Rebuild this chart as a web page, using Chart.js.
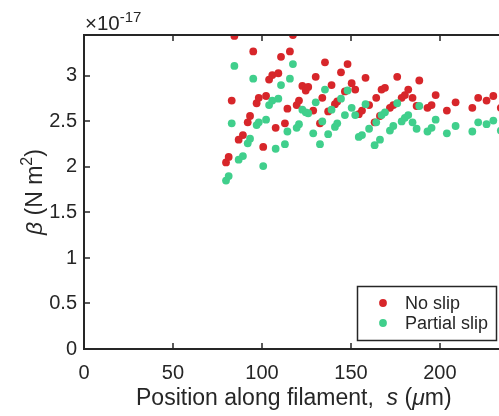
<!DOCTYPE html>
<html>
<head>
<meta charset="utf-8">
<script src="https://cdn.jsdelivr.net/npm/chart.js@4"></script>
<style>
  html, body { margin: 0; padding: 0; background: #fff; overflow: hidden; }
  #wrap { width: 499px; height: 416px; overflow: hidden; }
</style>
</head>
<body>
<div id="wrap"><canvas id="chart" width="520" height="416"></canvas></div>
<script>
// positions along the filament (um) and bending stiffness (x 1e-17 N m^2)
const positions = [
  79.8, 81.3, 83.0, 84.5, 86.9, 89.3, 92.0, 93.3, 95.1, 97.0,
  98.2, 100.7, 102.3, 104.0, 105.8, 107.7, 109.2, 110.7, 112.9, 114.3,
  115.7, 117.4, 119.5, 120.8, 122.7, 124.6, 126.0, 128.8, 130.2, 132.6,
  133.9, 135.4, 137.2, 139.1, 141.0, 142.3, 144.4, 146.6, 148.1, 150.4,
  152.4, 154.4, 156.2, 158.2, 160.2, 163.3, 164.2, 166.3, 167.2, 169.1,
  171.9, 173.8, 176.0, 178.5, 180.3, 182.2, 184.6, 186.9, 188.4, 193.0,
  195.3, 197.6, 203.9, 208.8, 218.2, 221.5, 226.2, 230.0, 234.2
];
const noSlip = [
  2.05, 2.11, 2.73, 3.44, 2.30, 2.35, 2.49, 2.56, 3.27, 2.70,
  2.76, 2.22, 2.78, 2.96, 3.01, 2.43, 3.03, 3.21, 2.48, 2.64,
  3.27, 3.45, 2.68, 2.73, 2.89, 2.84, 2.88, 2.62, 2.99, 2.48,
  2.76, 3.15, 2.61, 2.90, 2.69, 2.72, 3.04, 2.83, 3.13, 2.92,
  2.85, 2.58, 2.62, 2.98, 2.68, 2.49, 2.76, 2.56, 2.85, 2.87,
  2.65, 2.68, 2.99, 2.76, 2.79, 2.85, 2.76, 2.67, 2.95, 2.65,
  2.68, 2.79, 2.62, 2.71, 2.65, 2.76, 2.73, 2.78, 2.65
];
const partialSlip = [
  1.85, 1.90, 2.48, 3.11, 2.08, 2.12, 2.26, 2.31, 2.97, 2.46,
  2.49, 2.01, 2.52, 2.68, 2.73, 2.20, 2.75, 2.90, 2.25, 2.39,
  2.97, 3.13, 2.43, 2.47, 2.63, 2.60, 2.59, 2.37, 2.71, 2.25,
  2.50, 2.85, 2.36, 2.63, 2.44, 2.48, 2.75, 2.57, 2.84, 2.65,
  2.57, 2.33, 2.35, 2.69, 2.42, 2.24, 2.49, 2.30, 2.57, 2.60,
  2.40, 2.45, 2.70, 2.50, 2.54, 2.57, 2.49, 2.42, 2.67, 2.39,
  2.43, 2.52, 2.37, 2.45, 2.39, 2.49, 2.47, 2.51, 2.40
];
const xTicks = [0, 50, 100, 150, 200];
const yTicks = [0, 0.5, 1, 1.5, 2, 2.5, 3];

const RED = '#d7262a';
const GREEN = '#40cf8c';
const INK = '#262626';
const FONT = "'Liberation Sans', Arial, Helvetica, sans-serif";

function toPoints(ys) {
  return positions.map((x, i) => ({ x: x, y: ys[i] }));
}

// draws a run of text pieces one after another (italic, superscript ...)
function drawPieces(ctx, x, y, pieces) {
  let cx = x;
  pieces.forEach(p => {
    ctx.font = (p.italic ? 'italic ' : '') + p.size + 'px ' + FONT;
    ctx.fillText(p.text, cx, y - (p.raise || 0));
    cx += ctx.measureText(p.text).width;
  });
}

const frame = {
  id: 'frame',
  afterDraw(chart) {
    const ctx = chart.ctx;
    const a = chart.chartArea;
    const xs = chart.scales.x, ys = chart.scales.y;
    ctx.save();
    ctx.strokeStyle = INK;
    ctx.lineWidth = 2;
    ctx.strokeRect(a.left, a.top, a.right - a.left, a.bottom - a.top);

    // inward ticks
    ctx.lineWidth = 1.5;
    ctx.beginPath();
    xTicks.forEach(v => {
      if (v === 0) return;
      const px = Math.round(xs.getPixelForValue(v));
      ctx.moveTo(px, a.bottom); ctx.lineTo(px, a.bottom - 6);
      ctx.moveTo(px, a.top); ctx.lineTo(px, a.top + 6);
    });
    yTicks.forEach(v => {
      if (v === 0) return;
      const py = Math.round(ys.getPixelForValue(v));
      ctx.moveTo(a.left, py); ctx.lineTo(a.left + 6, py);
    });
    ctx.stroke();

    ctx.fillStyle = INK;
    ctx.textBaseline = 'alphabetic';
    ctx.textAlign = 'left';

    // exponent
    drawPieces(ctx, 85, 30, [
      { text: '\u00d7', size: 20.5 },
      { text: '10', size: 20.5 },
      { text: '-17', size: 15, raise: 8 }
    ]);

    // x title
    drawPieces(ctx, 136, 405, [
      { text: 'Position along filament,  ', size: 23 },
      { text: 's', size: 23, italic: true },
      { text: ' (', size: 23 },
      { text: '\u03bc', size: 23, italic: true },
      { text: 'm)', size: 23 }
    ]);

    // y title
    ctx.save();
    ctx.translate(42, 235);
    ctx.rotate(-Math.PI / 2);
    drawPieces(ctx, 0, 0, [
      { text: '\u03b2', size: 23, italic: true },
      { text: ' (N m', size: 23 },
      { text: '2', size: 16, raise: 10 },
      { text: ')', size: 23 }
    ]);
    ctx.restore();

    // legend
    ctx.fillStyle = '#fff';
    ctx.fillRect(357.5, 286.5, 139, 54);
    ctx.lineWidth = 1.5;
    ctx.strokeRect(357.5, 286.5, 139, 54);
    ctx.textBaseline = 'middle';
    ctx.font = '18px ' + FONT;
    const items = [chart.data.datasets[1], chart.data.datasets[0]];
    items.forEach((ds, i) => {
      const y = 303 + i * 20;
      ctx.fillStyle = ds.backgroundColor;
      ctx.beginPath();
      ctx.arc(383, y, 3.9, 0, Math.PI * 2);
      ctx.fill();
      ctx.fillStyle = INK;
      ctx.fillText(ds.label, 405, y + 1);
    });
    ctx.restore();
  }
};

new Chart(document.getElementById('chart'), {
  type: 'scatter',
  data: {
    datasets: [
      {
        label: 'Partial slip',
        data: toPoints(partialSlip),
        backgroundColor: GREEN,
        borderWidth: 0,
        pointRadius: 3.9,
        order: 0
      },
      {
        label: 'No slip',
        data: toPoints(noSlip),
        backgroundColor: RED,
        borderWidth: 0,
        pointRadius: 3.9,
        order: 1
      }
    ]
  },
  options: {
    responsive: false,
    animation: false,
    layout: { padding: { top: 35, right: 16, left: 0, bottom: 0 } },
    plugins: {
      legend: { display: false },
      tooltip: { enabled: false }
    },
    scales: {
      x: {
        type: 'linear',
        min: 0,
        max: 236,
        afterBuildTicks: s => { s.ticks = xTicks.map(v => ({ value: v })); },
        afterFit: s => { s.height = 67; },
        grid: { display: false, drawTicks: false },
        border: { display: false },
        ticks: { padding: 12, maxRotation: 0, color: INK, font: { family: FONT, size: 20 },
                 callback: v => String(v) }
      },
      y: {
        min: 0,
        max: 3.45,
        afterBuildTicks: s => { s.ticks = yTicks.map(v => ({ value: v })); },
        afterFit: s => { s.width = 84; },
        grid: { display: false, drawTicks: false },
        border: { display: false },
        ticks: { padding: 7, color: INK, font: { family: FONT, size: 20 },
                 callback: v => String(v) }
      }
    }
  },
  plugins: [frame]
});
</script>
</body>
</html>
